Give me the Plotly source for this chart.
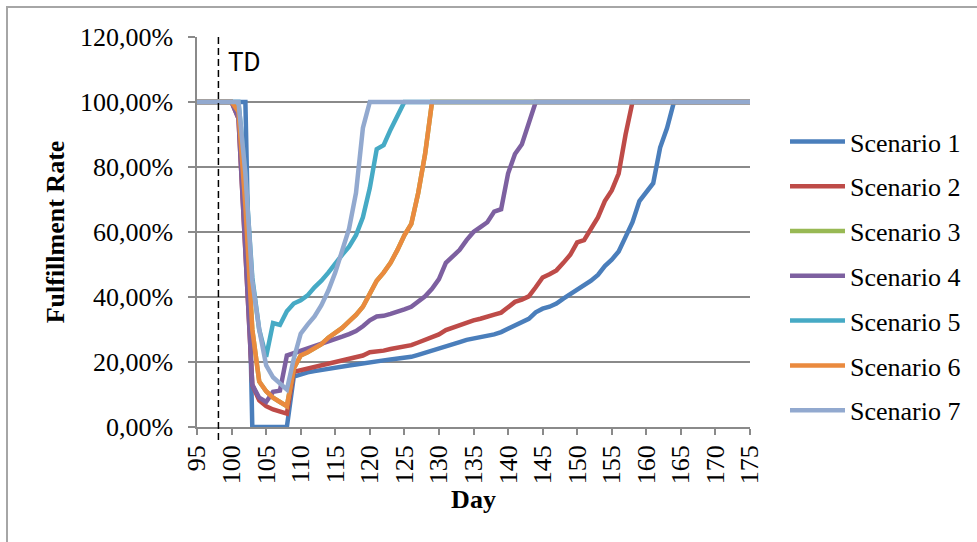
import plotly.graph_objects as go

# Simulation days
days = list(range(95, 176))

# Fulfillment rate (%) per scenario, one value per day from 95 to 175
scenario_1 = [100, 100, 100, 100, 100, 100, 100, 100,
              0, 0, 0, 0, 0, 0,
              15.5, 16.3, 16.8, 17.2, 17.6, 18.0, 18.3, 18.6, 18.9, 19.2,
              19.6, 20.0, 20.3, 20.5, 20.8, 21.0, 21.3, 21.6, 22.2, 22.8,
              23.5, 24.2, 24.8, 25.5, 26.1, 26.8, 27.2, 27.6, 28.0, 28.5,
              29.2, 30.2, 31.3, 32.3, 33.3, 35.3, 36.4, 37.0, 38.0, 39.5,
              40.8, 42.5, 43.4, 45.0, 46.8, 49.5, 51.5, 54.0, 58.5, 63.0,
              69.5, 72.5, 75.0, 86.0, 92.0,
              100, 100, 100, 100, 100, 100, 100, 100, 100, 100, 100, 100]

scenario_2 = [100, 100, 100, 100, 100, 100,
              95, 55, 13, 8.2, 6.4, 5.4, 4.6, 4.1, 17, 17.5,
              18, 18.5, 19, 19.5, 20, 20.4, 20.8, 21.2, 22, 23,
              23.2, 23.5, 24, 24.4, 24.8, 25.2, 26, 26.8, 27.8, 28.5,
              29.8, 30.6, 31.3, 32.2, 32.8, 33.3, 33.8, 34.6, 35.2, 37,
              38.5, 39.2, 40.2, 43, 46, 47, 48.2, 50.5, 53, 56.8,
              57.5, 61, 64.5, 69.5, 72.8, 78, 90,
              100, 100, 100, 100, 100, 100, 100, 100, 100, 100, 100, 100,
              100, 100, 100, 100, 100, 100]

scenario_4 = [100, 100, 100, 100, 100, 100,
              95, 55, 13, 9, 7.7, 10.8, 11.2, 22, 22.7, 23.5,
              24.2, 24.8, 25.4, 26.2, 27, 27.8, 28.6, 29.5, 31, 32.8,
              34, 34.2, 34.8, 35.4, 36.2, 37, 38.5, 40.2, 42.5, 45.5,
              50.5, 52.3, 54.5, 57.5, 60, 61.5, 63, 66.3, 67, 78,
              84, 87, 93,
              100, 100, 100, 100, 100, 100, 100, 100, 100, 100, 100, 100,
              100, 100, 100, 100, 100, 100, 100, 100, 100, 100, 100, 100,
              100, 100, 100, 100, 100, 100, 100, 100]

scenario_5 = [100, 100, 100, 100, 100, 100, 100,
              78, 46, 30, 21.6, 32, 31.4, 35.6, 38, 39,
              40.5, 43, 45, 47.5, 50.5, 53, 55.5, 59, 64.5, 73.5,
              85.5, 86.7, 91.5, 96,
              100, 100, 100, 100, 100, 100, 100, 100, 100, 100, 100, 100,
              100, 100, 100, 100, 100, 100, 100, 100, 100, 100, 100, 100,
              100, 100, 100, 100, 100, 100, 100, 100, 100, 100, 100, 100,
              100, 100, 100, 100, 100, 100, 100, 100, 100, 100, 100, 100,
              100, 100, 100]

scenario_6 = [100, 100, 100, 100, 100, 100,
              97, 68, 30, 14, 11, 9, 7.7, 6.4, 18, 22,
              23, 24.3, 25.5, 27.5, 29, 30.5, 32.5, 34.5, 37, 41,
              45, 47.5, 50.5, 54.5, 59, 62.5, 72, 84,
              100, 100, 100, 100, 100, 100, 100, 100, 100, 100, 100, 100,
              100, 100, 100, 100, 100, 100, 100, 100, 100, 100, 100, 100,
              100, 100, 100, 100, 100, 100, 100, 100, 100, 100, 100, 100,
              100, 100, 100, 100, 100, 100, 100, 100, 100, 100, 100]

# Scenario 3 follows the same path as scenario 6
scenario_3 = list(scenario_6)

scenario_7 = [100, 100, 100, 100, 100, 100, 100,
              78, 45, 30, 19, 15.3, 13.4, 11.5, 21, 28.7,
              31.5, 34, 37.5, 42, 47.5, 54, 61, 72, 92,
              100, 100, 100, 100, 100, 100, 100, 100, 100, 100, 100, 100,
              100, 100, 100, 100, 100, 100, 100, 100, 100, 100, 100, 100,
              100, 100, 100, 100, 100, 100, 100, 100, 100, 100, 100, 100,
              100, 100, 100, 100, 100, 100, 100, 100, 100, 100, 100, 100,
              100, 100, 100, 100, 100, 100, 100, 100]

series_names = ["Scenario 1", "Scenario 2", "Scenario 3", "Scenario 4",
                "Scenario 5", "Scenario 6", "Scenario 7"]
series_values = [scenario_1, scenario_2, scenario_3, scenario_4,
                 scenario_5, scenario_6, scenario_7]
series_colors = ["#4A7EBB", "#BE4B48", "#98B954", "#7D60A0",
                 "#46AAC5", "#EA8A3E", "#92A9CF"]

x_ticks = list(range(95, 176, 5))
x_ticktext = [str(v) for v in x_ticks]
y_ticks = [0, 20, 40, 60, 80, 100, 120]
y_ticktext = ["0,00%", "20,00%", "40,00%", "60,00%", "80,00%", "100,00%", "120,00%"]

td_day = 98.1  # disruption marker

W, H = 977, 542
ML, MR, MT, MB = 197, 227, 37, 115
plot_w = W - ML - MR
plot_h = H - MT - MB

serif = "Liberation Serif, Times New Roman, serif"
grid_col = "#8A8A8A"

fig = go.Figure()
for name, vals, col in zip(series_names, series_values, series_colors):
    fig.add_trace(go.Scatter(
        x=days, y=vals, mode="lines", name=name, legendgroup=name,
        line=dict(color=col, width=4.5),
    ))


def px_to_paper_x(px):
    return (px - ML) / plot_w


def px_to_paper_y(py):
    return (H - MB - py) / plot_h


# TD marker line
td_x = (td_day - x_ticks[0]) / (x_ticks[-1] - x_ticks[0])
fig.add_shape(type="line", xref="paper", yref="paper",
              x0=td_x, x1=td_x, y0=px_to_paper_y(440), y1=1.0,
              line=dict(color="black", width=1.5, dash="7px,4px"))
fig.add_annotation(text="TD", xref="paper", yref="paper",
                   x=td_x + px_to_paper_x(ML + 8), y=px_to_paper_y(62),
                   xanchor="left", yanchor="middle", showarrow=False,
                   font=dict(family="Roboto, Arial, sans-serif", size=26, color="black"))

# chart frame
fig.add_shape(type="rect", xref="paper", yref="paper",
              x0=px_to_paper_x(7), x1=px_to_paper_x(W + 20),
              y0=px_to_paper_y(H + 20), y1=px_to_paper_y(7),
              line=dict(color="#A6A6A6", width=2), fillcolor="rgba(0,0,0,0)",
              layer="below")

fig.update_layout(
    width=W, height=H,
    margin=dict(l=ML, r=MR, t=MT, b=MB, autoexpand=False),
    paper_bgcolor="white", plot_bgcolor="white",
    font=dict(family=serif, color="black"),
    showlegend=True,
    legend=dict(
        x=px_to_paper_x(785), y=px_to_paper_y(118), xanchor="left", yanchor="top",
        font=dict(family=serif, size=26, color="black"),
        traceorder="grouped", tracegroupgap=8, itemwidth=55,
        bgcolor="rgba(0,0,0,0)",
    ),
    xaxis=dict(
        range=[95, 175], tickmode="array", tickvals=x_ticks, ticktext=x_ticktext,
        tickangle=-90, showgrid=False, zeroline=False,
        showline=True, linecolor=grid_col, linewidth=1.5,
        ticks="outside", ticklen=6, tickcolor=grid_col, tickwidth=1.5,
        tickfont=dict(family=serif, size=26, color="black"),
        title=dict(text="<b>Day</b>", font=dict(family=serif, size=26, color="black"),
                   standoff=7),
        automargin=False,
    ),
    yaxis=dict(
        range=[0, 120], tickmode="array", tickvals=y_ticks, ticktext=y_ticktext,
        showgrid=True, gridcolor=grid_col, gridwidth=1.5, zeroline=False,
        showline=True, linecolor=grid_col, linewidth=1.5,
        ticks="outside", ticklen=7, tickcolor=grid_col, tickwidth=1.5,
        ticklabelstandoff=10,
        tickfont=dict(family=serif, size=26, color="black"),
        title=dict(text="<b>Fulfillment Rate</b>",
                   font=dict(family=serif, size=26, color="black"), standoff=8),
        automargin=False,
    ),
)

fig.write_html("out.html")
